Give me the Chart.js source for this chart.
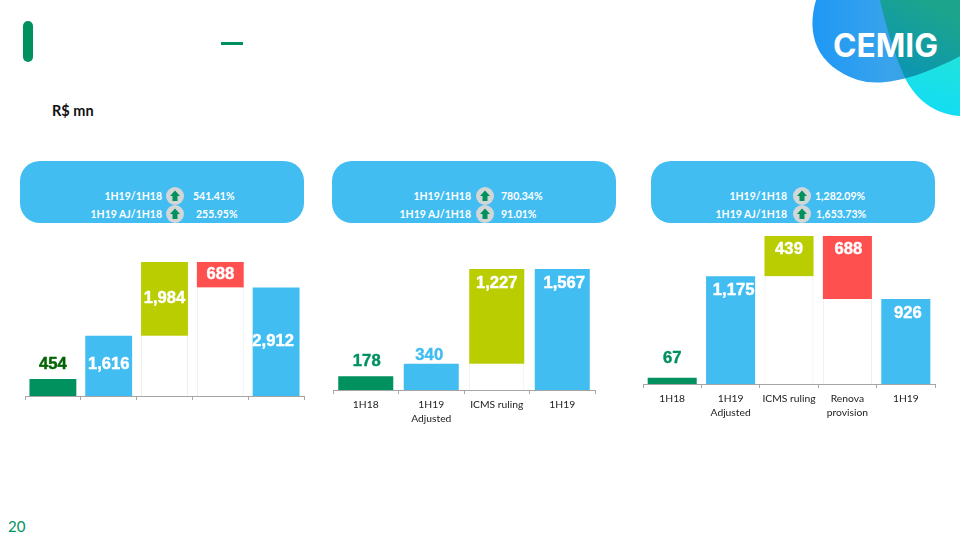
<!DOCTYPE html>
<html>
<head>
<meta charset="utf-8">
<script src="https://cdn.jsdelivr.net/npm/chart.js@4"></script>
<style>
    body { margin: 0; background: #fff; }
    #page { position: relative; width: 960px; height: 540px; overflow: hidden; font-family: Lato, sans-serif; }
    #page canvas { position: absolute; }
    #logo { position: absolute; left: 0; top: 0; }
    .mark { position: absolute; background: #00915f; }
    .unit { position: absolute; left: 52px; top: 102px; font-size: 14.5px; font-weight: bold; color: #111; }
    .pageno { position: absolute; left: 8px; top: 517px; font-size: 15px; color: #00915f; }
    .panel { position: absolute; top: 161px; width: 284px; height: 62px; background: #41bdf2; border-radius: 20px; }
    .row { position: absolute; color: #fff; font-size: 10.5px; font-weight: bold; line-height: 14px; white-space: nowrap; }
    .row.left { text-align: right; }
    .up { position: absolute; width: 18px; height: 18px; border-radius: 50%; background: #d2d6d6; }
    .up svg { display: block; }
</style>
</head>
<body>
<div id="page">
    <svg id="logo" width="960" height="540">
        <defs>
            <linearGradient id="blue" x1="0" y1="0" x2="1" y2="0">
                <stop offset="0" stop-color="#1f98f6"/>
                <stop offset="0.55" stop-color="#3aa4ea"/>
                <stop offset="1" stop-color="#1c9fc0"/>
            </linearGradient>
            <linearGradient id="teal" x1="0.6" y1="0" x2="0.2" y2="1">
                <stop offset="0" stop-color="#1ca58c"/>
                <stop offset="0.6" stop-color="#0d97ae"/>
                <stop offset="1" stop-color="#0c97be"/>
            </linearGradient>
            <linearGradient id="cyan" x1="0.8" y1="0" x2="0.6" y2="1">
                <stop offset="0" stop-color="#2be8c8"/>
                <stop offset="1" stop-color="#12dcf5"/>
            </linearGradient>
            <clipPath id="blobClip">
                <path d="M816 0 C806 34 816 66 858 80 C884 88 922 76 960 56 L960 0 Z"/>
            </clipPath>
        </defs>
        <path d="M880 0 C886 28 896 58 905 78 C918 104 940 115 960 116 L960 0 Z" fill="url(#cyan)"/>
        <path d="M816 0 C806 34 816 66 858 80 C884 88 922 76 960 56 L960 0 Z" fill="url(#blue)"/>
        <path d="M880 0 C886 28 896 58 905 78 C918 104 940 115 960 116 L960 0 Z" fill="url(#teal)" clip-path="url(#blobClip)"/>
        <text x="833" y="57" textLength="105" lengthAdjust="spacingAndGlyphs" font-family="Inter" font-weight="700" font-size="32" fill="#fff">CEMIG</text>
    </svg>

    <div class="mark" style="left:23px;top:21px;width:10px;height:41px;border-radius:5px"></div>
    <div class="mark" style="left:221px;top:42px;width:22px;height:3px"></div>
    <div class="unit">R$ mn</div>
    <div class="pageno">20</div>

    <div class="panel" style="left:20px"></div>
    <div class="panel" style="left:332px"></div>
    <div class="panel" style="left:651px"></div>
    <div id="rows"></div>

    <canvas id="chart1" width="288" height="150" style="left:19.5px;top:256px"></canvas>
    <canvas id="chart2" width="271" height="180" style="left:327.5px;top:260px"></canvas>
    <canvas id="chart3" width="301" height="200" style="left:637.5px;top:234px"></canvas>
</div>

<script>
// left chart
const categories1 = ['1H18', '1H19 Adjusted', 'ICMS ruling', 'Renova provision', '1H19'];
const base1 = [0, 0, 1616, 2912, 0];
const values1 = [454, 1616, 1984, 688, 2912];
const labels1 = ['454', '1,616', '1,984', '688', '2,912'];

// middle chart
const categories2 = ['1H18', ['1H19', 'Adjusted'], 'ICMS ruling', '1H19'];
const base2 = [0, 0, 340, 0];
const values2 = [178, 340, 1227, 1567];
const labels2 = ['178', '340', '1,227', '1,567'];

// right chart
const categories3 = ['1H18', ['1H19', 'Adjusted'], 'ICMS ruling', ['Renova', 'provision'], '1H19'];
const base3 = [0, 0, 1175, 926, 0];
const values3 = [67, 1175, 439, 688, 926];
const labels3 = ['67', '1,175', '439', '688', '926'];

// comparison text in the blue panels
const compareNames = ['1H19/1H18', '1H19 AJ/1H18'];
const compare1 = ['541.41%', '255.95%'];
const compare2 = ['780.34%', '91.01%'];
const compare3 = ['1,282.09%', '1,653.73%'];

const GREEN = '#00915f';
const BLUE = '#41bdf2';
const OLIVE = '#b9cd00';
const RED = '#ff5050';

function addCompareRows(names, percents, nameEnd, iconX, percentX) {
    const holder = document.getElementById('rows');
    const rowY = [189, 207];
    names.forEach((name, i) => {
        const left = document.createElement('div');
        left.className = 'row left';
        left.style.cssText = `left:${nameEnd - 120}px;top:${rowY[i]}px;width:120px`;
        left.textContent = name;
        holder.appendChild(left);

        const icon = document.createElement('div');
        icon.className = 'up';
        icon.style.cssText = `left:${iconX - 9}px;top:${rowY[i] - 2}px`;
        icon.innerHTML = '<svg width="18" height="18"><path d="M9 3.5 L14 9 L11.5 9 L11.5 14 L6.5 14 L6.5 9 L4 9 Z" fill="#00915f"/></svg>';
        holder.appendChild(icon);

        const right = document.createElement('div');
        right.className = 'row';
        right.style.cssText = `left:${percentX[i]}px;top:${rowY[i]}px`;
        right.textContent = percents[i];
        holder.appendChild(right);
    });
}

// value labels are written on the bars after they are drawn, a bit wider than the plain font
const barLabels = {
    id: 'barLabels',
    afterDatasetsDraw(chart, args, opts) {
        const ctx = chart.ctx;
        const bars = chart.getDatasetMeta(1).data;
        bars.forEach((bar, i) => {
            ctx.save();
            ctx.translate(bar.x + opts.dx[i], bar.y + opts.dy[i]);
            ctx.scale(1.04, 1);
            ctx.textAlign = 'center';
            ctx.textBaseline = 'middle';
            ctx.font = 'bold 16px "Liberation Sans"';
            ctx.fillStyle = opts.colors[i];
            ctx.strokeStyle = opts.colors[i];
            ctx.lineWidth = 0.4;
            ctx.fillText(opts.texts[i], 0, 0);
            ctx.strokeText(opts.texts[i], 0, 0);
            ctx.restore();
        });
    }
};

function makeChart(id, categories, base, values, colors, topValue, axisHeight, padRight, showTicks, labelOpts) {
    return new Chart(document.getElementById(id), {
        type: 'bar',
        data: {
            labels: categories,
            datasets: [{
                data: base,
                backgroundColor: '#fff',
                borderColor: base.map(v => v > 0 ? '#ececec' : 'rgba(0,0,0,0)'),
                borderWidth: { left: 1, right: 1, top: 0, bottom: 0 },
                barPercentage: 0.84,
                categoryPercentage: 1
            }, {
                data: values,
                backgroundColor: colors,
                barPercentage: 0.84,
                categoryPercentage: 1
            }]
        },
        options: {
            responsive: false,
            animation: false,
            layout: { padding: { left: 5, right: padRight, top: 0, bottom: 0 } },
            plugins: {
                legend: { display: false },
                tooltip: { enabled: false },
                barLabels: labelOpts
            },
            scales: {
                x: {
                    stacked: true,
                    afterFit: scale => { scale.height = axisHeight; },
                    border: { color: '#a6a6a6' },
                    grid: { drawOnChartArea: false, tickLength: 4, color: '#a6a6a6' },
                    ticks: {
                        display: showTicks,
                        autoSkip: false,
                        maxRotation: 0,
                        padding: 4,
                        color: '#222',
                        font: { family: 'Lato', size: 10.3, lineHeight: 1.36 }
                    }
                },
                y: { stacked: true, display: false, min: 0, max: topValue }
            }
        },
        plugins: [barLabels]
    });
}

addCompareRows(compareNames, compare1, 162, 175, [193, 196]);
addCompareRows(compareNames, compare2, 471, 485, [501, 501]);
addCompareRows(compareNames, compare3, 787, 802, [815, 816]);

makeChart('chart1', categories1, base1, values1, [GREEN, BLUE, OLIVE, RED, BLUE], 3760, 10, 4, false, {
    texts: labels1,
    colors: ['#006400', '#fff', '#fff', '#fff', '#fff'],
    dx: [0, 0, 0, 0, -3],
    dy: [-15, 29, 37, 13, 54]
});
makeChart('chart2', categories2, base2, values2, [GREEN, BLUE, OLIVE, BLUE], 1684, 50, 4, true, {
    texts: labels2,
    colors: [GREEN, BLUE, '#fff', '#fff'],
    dx: [1, -2, 0, 2],
    dy: [-15, -8, 15, 15]
});
makeChart('chart3', categories3, base3, values3, [GREEN, BLUE, OLIVE, RED, BLUE], 1636, 50, 4, true, {
    texts: labels3,
    colors: [GREEN, '#fff', '#fff', '#fff', '#fff'],
    dx: [0, 3, 0, 1, 2],
    dy: [-19, 14, 14, 14, 14]
});
</script>
</body>
</html>
